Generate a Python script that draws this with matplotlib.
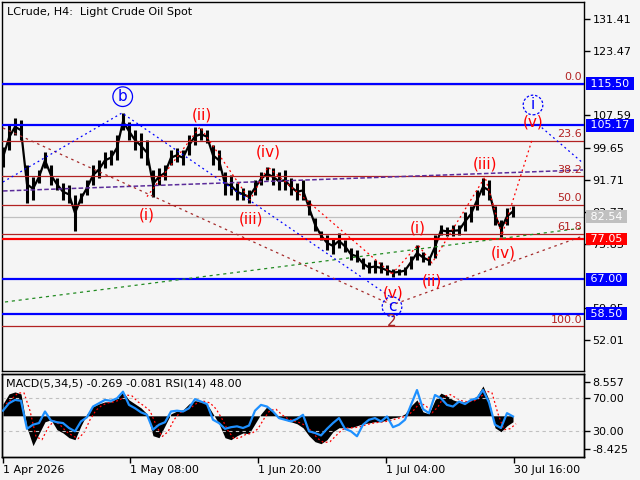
import matplotlib
matplotlib.use("Agg")
import matplotlib.pyplot as plt
import numpy as np
import pandas as pd

BG = "#f5f5f5"
FIB = "#b22222"
BROWN = "#a52a2a"

# ── data ──────────────────────────────────────────────────────────────────────
# H4 bars, sampled every 6 bars (bar index 0 = 1 Apr 2026)
bar_x = np.arange(0, 511, 6)
price_hi = [99.7, 105.2, 106.9, 106.4, 95.3, 92.3, 94.0, 98.5, 95.3, 92.0,
            90.8, 90.3, 87.8, 88.3, 91.5, 95.3, 96.5, 98.5, 99.0, 102.7,
            108.2, 105.9, 104.0, 103.2, 101.5, 94.0, 94.5, 95.3, 99.0, 99.5,
            99.0, 102.7, 104.7, 104.4, 104.0, 100.2, 99.0, 93.5, 92.8, 90.8,
            89.6, 89.1, 91.5, 93.5, 94.8, 94.5, 93.5, 94.0, 92.0, 90.8,
            91.5, 86.6, 82.1, 79.1, 77.9, 77.2, 78.4, 76.7, 74.7, 74.2,
            72.2, 71.2, 71.7, 71.2, 70.5, 69.7, 69.7, 70.2, 72.9, 75.4,
            73.7, 72.9, 77.9, 80.4, 80.1, 80.4, 80.4, 83.6, 85.3, 89.1,
            92.0, 91.5, 85.3, 81.6, 84.8, 85.3]
price_lo = [94.8, 99.0, 102.7, 101.5, 85.8, 86.6, 90.8, 94.5, 90.3, 89.1,
            86.6, 85.8, 79.1, 85.8, 87.8, 90.3, 92.0, 94.5, 95.3, 96.5,
            104.0, 101.5, 99.0, 97.0, 95.3, 87.3, 90.3, 91.5, 95.3, 96.0,
            95.3, 97.7, 100.2, 101.5, 100.7, 95.3, 94.0, 87.8, 87.8, 86.6,
            86.6, 85.8, 87.8, 90.3, 91.5, 90.3, 89.1, 89.1, 87.8, 86.6,
            86.6, 82.9, 79.1, 76.7, 74.2, 73.4, 74.7, 73.7, 71.7, 71.2,
            69.7, 68.7, 68.7, 68.5, 68.0, 67.7, 68.0, 68.2, 69.7, 71.7,
            71.2, 70.5, 72.2, 77.9, 77.7, 77.7, 77.9, 79.1, 81.1, 84.1,
            87.8, 86.6, 80.4, 77.4, 80.4, 82.4]
macd_hist = [3.0, 5.5, 6.0, 5.5, -3.0, -7.5, -4.5, -1.5, -1.0, -3.5,
             -4.3, -5.5, -6.0, -2.5, 0.5, 2.3, 3.0, 3.5, 3.5, 4.5,
             6.0, 4.0, 3.0, 2.0, 0.5, -5.0, -5.5, -2.5, 0.5, 1.2,
             1.5, 3.0, 3.8, 3.5, 3.0, 0.5, -2.0, -5.5, -6.0, -5.0,
             -4.3, -4.5, -2.0, 0.5, 2.3, 1.0, -0.5, -1.0, -1.5, -2.0,
             -3.0, -5.0, -6.5, -7.0, -6.0, -4.0, -3.0, -3.0, -3.0, -2.5,
             -2.0, -1.8, -1.5, -1.5, -1.0, -0.5, -0.3, 0.5, 2.5, 4.0,
             1.0, 0.5, 4.0, 5.7, 5.0, 4.0, 3.5, 3.5, 4.0, 5.0,
             7.5, 4.0, -3.0, -4.0, -2.5, -1.5]
rsi = [55, 64, 68, 67, 33, 38, 40, 54, 43, 41,
       40, 34, 30, 42, 47, 60, 64, 68, 67, 70,
       78, 62, 58, 53, 50, 32, 38, 41, 54, 55,
       54, 58, 69, 66, 63, 44, 40, 33, 35, 36,
       34, 37, 55, 62, 60, 54, 46, 44, 42, 45,
       50, 30, 28, 25, 33, 40, 46, 33, 30, 24,
       38, 44, 46, 42, 48, 35, 38, 44, 62, 80,
       57, 52, 74, 70, 62, 60, 66, 63, 68, 70,
       80, 65, 38, 34, 52, 48]

current_price = 82.54
blue_levels = [115.50, 105.17, 67.00, 58.50]
red_level = 77.05
fib_top, fib_bottom = 115.50, 55.35
fib_ratios = [0.0, 23.6, 38.2, 50.0, 61.8, 100.0]

# 115.53 and 67.89 sit fully under the level boxes, so they are left out
price_ticks = [131.41, 123.47, 107.59, 99.65, 91.71,
               83.77, 75.83, 59.95, 52.01]
time_ticks = [0, 127, 255, 383, 511]
time_labels = ["1 Apr 2026", "1 May 08:00", "1 Jun 20:00",
               "1 Jul 04:00", "30 Jul 16:00"]

# wave lines (bar index, price)
blue_wave_x, blue_wave_y = [0, 119, 389], [91.13, 108.21, 62.40]
blue_proj_x, blue_proj_y = [535, 580], [105.4, 95.8]
red_w1_x = [144, 197, 247, 265, 389]
red_w1_y = [87.5, 104.75, 86.67, 94.84, 68.35]
red_w2_x = [389, 415, 429, 482, 499, 529]
red_w2_y = [68.35, 75.53, 71.07, 92.37, 78.0, 101.53]
brown_x, brown_y = [0, 389, 580], [104.50, 60.67, 77.76]
green_x, green_y = [2, 580], [61.41, 79.74]
purple_x, purple_y = [0, 580], [88.90, 94.10]

# wave labels
red_labels = ["(i)", "(ii)", "(iii)", "(iv)", "(v)",
              "(i)", "(ii)", "(iii)", "(iv)", "(v)"]
red_lab_x = [144, 199, 248, 265, 390, 415, 429, 482, 500, 530]
red_lab_y = [82.96, 107.72, 81.97, 98.55, 63.64, 79.74, 66.61, 95.58, 73.55, 105.98]
circle_labels = ["b", "c", "i"]
circle_x = [119.7, 389, 530]
circle_y = [112.25, 60.25, 110.19]
circle_dashed = [False, True, True]

# ── plotting ──────────────────────────────────────────────────────────────────
plt.rcParams["font.family"] = "DejaVu Sans"
fig = plt.figure(figsize=(6.4, 4.8), dpi=100, facecolor=BG)

ax = fig.add_axes([2 / 640, (480 - 370.5) / 480, 582 / 640, 368.5 / 480], facecolor=BG)
ax.set_xlim(-1, 581)
ax.set_ylim(44.45, 135.69)

# price bars
mid = (np.array(price_hi) + np.array(price_lo)) / 2
ax.vlines(bar_x, price_lo, price_hi, color="black", lw=2.2, zorder=2)
ax.plot(bar_x, mid, color="black", lw=1.6, zorder=2)

# horizontal levels
fib_levels = [fib_top - (fib_top - fib_bottom) * r / 100 for r in fib_ratios]
for r, lv in zip(fib_ratios, fib_levels):
    ax.axhline(lv, color=FIB, lw=0.9, zorder=3)
    ax.text(579, lv + 0.4, f"{r:.1f}", color=FIB, fontsize=8,
            ha="right", va="bottom", zorder=5)
ax.axhline(current_price, color="#c0c0c0", lw=0.9, zorder=1)
for lv in blue_levels:
    ax.axhline(lv, color="#0000ff", lw=1.6, zorder=3)
ax.axhline(red_level, color="#ff0000", lw=1.6, zorder=3)

# wave lines
ax.plot(purple_x, purple_y, color="#5b2c9a", lw=1.1, ls=(0, (3, 1.5)), zorder=4)
ax.plot(green_x, green_y, color="#228b22", lw=0.9, ls=(0, (2.5, 3)), zorder=4)
ax.plot(brown_x, brown_y, color=BROWN, lw=0.9, ls=(0, (2, 3)), zorder=4)
ax.plot(blue_wave_x, blue_wave_y, color="#0000ff", lw=0.9, ls=(0, (1.5, 2.5)), zorder=4)
ax.plot(blue_proj_x, blue_proj_y, color="#0000ff", lw=0.9, ls=(0, (1.5, 2.5)), zorder=4)
ax.plot(red_w1_x, red_w1_y, color="#ff0000", lw=0.9, ls=(0, (1.5, 2.5)), zorder=4)
ax.plot(red_w2_x, red_w2_y, color="#ff0000", lw=0.9, ls=(0, (1.5, 2.5)), zorder=4)

for t, x, y in zip(red_labels, red_lab_x, red_lab_y):
    ax.text(x, y, t, color="#ff0000", fontsize=11, ha="center", va="center", zorder=6)
for t, x, y, d in zip(circle_labels, circle_x, circle_y, circle_dashed):
    ax.scatter([x], [y], s=200, facecolors="none", edgecolors="#0000ff",
               linewidths=0.9, linestyle=(0, (2, 1.5)) if d else "-", zorder=6)
    ax.text(x, y, t, color="#0000ff", fontsize=11, ha="center", va="center", zorder=6)
ax.text(389, 56.46, "2", color=BROWN, fontsize=11, ha="center", va="center", zorder=6)

# right axis
ax.yaxis.tick_right()
ax.set_yticks(price_ticks)
ax.set_yticklabels([f"{v:.2f}" for v in price_ticks])
ax.tick_params(axis="y", length=4, width=1, pad=2, labelsize=8)
ax.set_xticks([])
for s in ax.spines.values():
    s.set_linewidth(1)

tr = ax.get_yaxis_transform()
boxes = [(115.50, "#0000ff"), (105.17, "#0000ff"), (current_price, "#c0c0c0"),
         (red_level, "#ff0000"), (67.00, "#0000ff"), (58.50, "#0000ff")]
for val, col in boxes:
    ax.text((587 - 2) / 582, val, f" {val:.2f} ", transform=tr, color="white",
            fontsize=8, ha="left", va="center", clip_on=False, zorder=7,
            bbox=dict(boxstyle="square,pad=0.12", fc=col, ec="none"))

fig.text(7 / 640, 1 - 12 / 480, "LCrude, H4:  Light Crude Oil Spot",
         fontsize=8, ha="left", va="center")

# ── MACD / RSI panel ─────────────────────────────────────────────────────────
axm = fig.add_axes([2 / 640, (480 - 457) / 480, 582 / 640, 83.5 / 480], facecolor=BG)
axm.set_xlim(-1, 581)
axm.set_ylim(-10.35, 10.63)
axm.fill_between(bar_x, 0, macd_hist, color="black", lw=0, zorder=2)
signal = pd.Series(macd_hist).rolling(2, min_periods=1).mean()
axm.plot(bar_x + 3, signal, color="#ff0000", lw=0.9, ls=(0, (1.5, 2)), zorder=3)

axr = axm.twinx()
axr.set_ylim(-1.15, 100.06)
axr.axhline(70, color="#c0c0c0", lw=0.8, ls=(0, (3, 3)), zorder=1)
axr.axhline(30, color="#c0c0c0", lw=0.8, ls=(0, (3, 3)), zorder=1)
axr.plot(bar_x, rsi, color="#1e90ff", lw=1.6, zorder=4)
axr.set_yticks([70, 30])
axr.set_yticklabels(["70.00", "30.00"])
axr.tick_params(axis="y", length=4, width=1, pad=2, labelsize=8)

axm.yaxis.tick_right()
axm.set_yticks([8.557, -8.425])
axm.set_yticklabels(["8.557", "-8.425"])
axm.tick_params(axis="y", length=4, width=1, pad=2, labelsize=8)
axm.set_xticks(time_ticks)
axm.set_xticklabels(time_labels)
for lbl in axm.get_xticklabels():
    lbl.set_ha("left")
axm.tick_params(axis="x", length=4, width=1, pad=2, labelsize=8)
for a in (axm, axr):
    for s in a.spines.values():
        s.set_linewidth(1)

fig.text(6 / 640, 1 - 383 / 480, "MACD(5,34,5) -0.269 -0.081 RSI(14) 48.00",
         fontsize=8, ha="left", va="center")

fig.savefig("out.png", dpi=100, facecolor=BG)
